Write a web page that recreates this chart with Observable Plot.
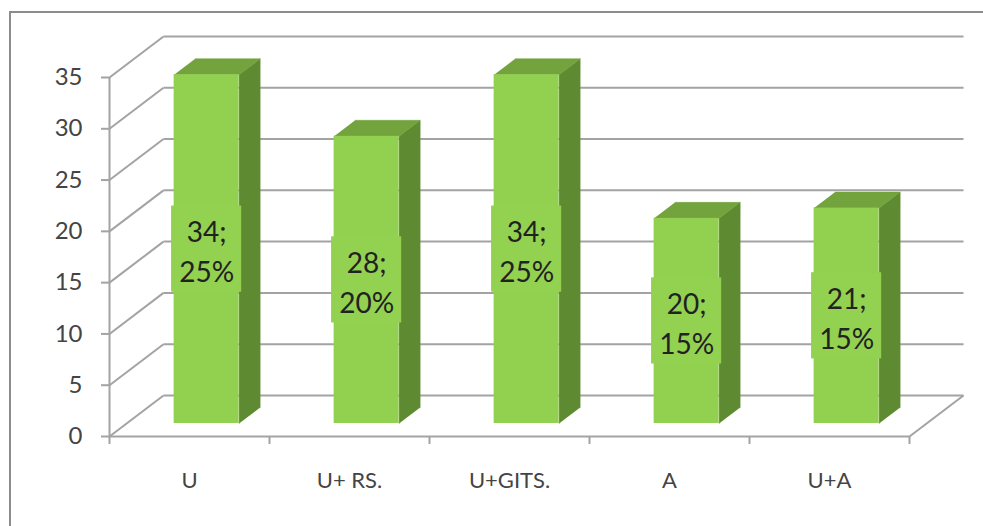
<!DOCTYPE html>
<html>
<head>
<meta charset="utf-8">
<script src="https://cdn.jsdelivr.net/npm/d3@7"></script>
<script src="https://cdn.jsdelivr.net/npm/@observablehq/plot@0.6"></script>
<style>
  html, body { margin: 0; padding: 0; background: #fff; }
  #wrap { position: relative; width: 983px; height: 526px; overflow: hidden; }
  #frame { position: absolute; left: 9px; top: 11px; width: 1200px; height: 800px;
           border-top: 2px solid #8c8c8c; border-left: 2px solid #8c8c8c; pointer-events: none; }
</style>
</head>
<body>
<div id="wrap"><div id="frame"></div></div>
<script>
// ---- data ----
const categories = ["U", "U+ RS.", "U+GITS.", "A", "U+A"];
const values = [34, 28, 34, 20, 21];
const percents = ["25%", "20%", "25%", "15%", "15%"];
const yTicks = [0, 5, 10, 15, 20, 25, 30, 35];

// ---- 3D projection (in data units of the scales) ----
const DX = 0.3375;   // full depth, in category units
const DY = 4.0;      // full depth, in value units
const D0 = 0.317, D1 = 0.707;  // bar front / back depth fractions
const HW = 0.203;    // bar half width
const n = categories.length;

const bars = categories.map((c, i) => {
  const v = values[i];
  const xl = i + 0.5 - HW + D0 * DX, xr = xl + 2 * HW;
  const ddx = (D1 - D0) * DX;
  const y0 = D0 * DY, y1 = D1 * DY;
  return {i, c, v, p: percents[i], xl, xr, ddx, y0, y1};
});
const topPts = bars.flatMap(b => [
  {k: b.i, x: b.xl, y: b.v + b.y0}, {k: b.i, x: b.xr, y: b.v + b.y0},
  {k: b.i, x: b.xr + b.ddx, y: b.v + b.y1}, {k: b.i, x: b.xl + b.ddx, y: b.v + b.y1}
]);
const sidePts = bars.flatMap(b => [
  {k: b.i, x: b.xr, y: b.y0}, {k: b.i, x: b.xr, y: b.v + b.y0},
  {k: b.i, x: b.xr + b.ddx, y: b.v + b.y1}, {k: b.i, x: b.xr + b.ddx, y: b.y1}
]);

const grid = "#a3a3a3";
const front = "#92d050", topC = "#72a33c", sideC = "#5e8b31";

const chart = Plot.plot({
  width: 983,
  height: 526,
  marginLeft: 109,
  marginRight: 74,
  marginTop: 77,
  marginBottom: 90,
  style: {fontFamily: "Lato, 'Open Sans', sans-serif", background: "transparent"},
  x: {type: "linear", domain: [0, n], label: null},
  y: {type: "linear", domain: [0, 35], label: null},
  marks: [
    // back wall gridlines
    Plot.link(yTicks, {x1: DX, x2: n + DX, y1: d => d + DY, y2: d => d + DY, stroke: grid, strokeWidth: 2}),
    // side wall diagonals
    Plot.link(yTicks, {x1: 0, y1: d => d, x2: DX, y2: d => d + DY, stroke: grid, strokeWidth: 2}),
    // floor right diagonal
    Plot.link([0], {x1: n, y1: 0, x2: n + DX, y2: DY, stroke: grid, strokeWidth: 2}),
    // front axes
    Plot.ruleY([0], {x1: 0, x2: n, stroke: grid, strokeWidth: 2}),
    Plot.ruleX([0], {y1: 0, y2: 35, stroke: grid, strokeWidth: 2}),
    Plot.axisY(yTicks, {tickSize: 8, tickPadding: 19, fontSize: 24, stroke: grid, strokeWidth: 2, fill: "#444", tickFormat: d => d}),
    Plot.axisX(d3.range(n + 1), {tickSize: 8, stroke: grid, strokeWidth: 2, tickFormat: () => ""}),
    Plot.text(categories, {x: (d, i) => i + 0.5, y: 0, dy: 44, text: d => d, fontSize: 22, fill: "#444", lineAnchor: "middle"}),
    // bars
    Plot.line(sidePts, {x: "x", y: "y", z: "k", fill: sideC, stroke: sideC, strokeWidth: 0.5}),
    Plot.line(topPts, {x: "x", y: "y", z: "k", fill: topC, stroke: topC, strokeWidth: 0.5}),
    Plot.rect(bars, {x1: "xl", x2: "xr", y1: "y0", y2: d => d.v + d.y0, fill: front}),
    // label boxes
    Plot.rect(bars, {x1: d => d.xl - 0.016, x2: d => d.xr + 0.016,
                     y1: d => d.v / 2 + d.y0 - 4.2, y2: d => d.v / 2 + d.y0 + 4.2, fill: "#93d151"}),
    Plot.text(bars, {x: d => (d.xl + d.xr) / 2, y: d => d.v / 2 + d.y0,
                     text: d => `${d.v};\n${d.p}`, fontSize: 28, lineHeight: 1.43, fill: "#222"})
  ]
});
document.getElementById("wrap").prepend(chart);
</script>
</body>
</html>
